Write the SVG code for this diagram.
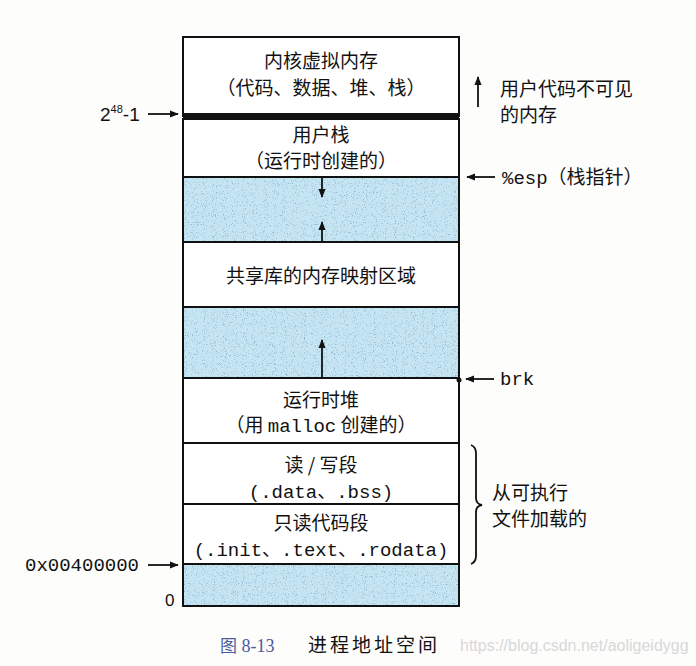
<svg xmlns="http://www.w3.org/2000/svg" width="696" height="666" viewBox="0 0 696 666">
<defs>
<marker id="ah" viewBox="0 0 10 10" refX="9" refY="5" markerWidth="9" markerHeight="9" markerUnits="userSpaceOnUse" orient="auto">
<path d="M0,1 L10,5 L0,9 Z" fill="#111"/>
</marker>
<filter id="speckle" x="0" y="0" width="100%" height="100%" color-interpolation-filters="sRGB">
<feTurbulence type="fractalNoise" baseFrequency="0.9" numOctaves="2" seed="4" result="n"/>
<feColorMatrix in="n" type="matrix" values="0 0 0 0 0.55  0 0 0 0 0.7  0 0 0 0 0.82  4.5 0 0 0 -2.6" result="dots"/>
<feComposite in="dots" in2="SourceGraphic" operator="in"/>
</filter>
</defs>
<style>
.box{fill:#fff;stroke:#111;stroke-width:2}
.blue{fill:#c6e5f3;stroke:#111;stroke-width:2}
.zh{font-family:"Noto Sans CJK SC","Noto Sans",sans-serif;font-size:19px;fill:#111}
.mono{font-family:"Liberation Mono","DejaVu Sans Mono",monospace;font-size:19px;fill:#111}
.c{text-anchor:middle}
.ln{stroke:#111;stroke-width:1.8;fill:none}
</style>
<rect width="696" height="666" fill="#fdfdfc"/>

<g id="kernel">
<rect class="box" x="183" y="37" width="276" height="79"/>
<text class="zh c" x="321" y="68">内核虚拟内存</text>
<text class="zh c" x="321" y="95">（代码、数据、堆、栈）</text>
</g>
<g id="boundary">
<rect x="183" y="113" width="276" height="6" fill="#111"/>
</g>
<g id="user-stack">
<rect class="box" x="183" y="119" width="276" height="58"/>
<text class="zh c" x="321" y="142">用户栈</text>
<text class="zh c" x="321" y="168">（运行时创建的）</text>
</g>
<g id="gap1">
<rect class="blue" x="183" y="177" width="276" height="65"/>
<rect x="184" y="178" width="274" height="63" fill="#c6e5f3" filter="url(#speckle)"/>
</g>
<g id="shared-lib">
<rect class="box" x="183" y="242" width="276" height="65"/>
<text class="zh c" x="321" y="283">共享库的内存映射区域</text>
</g>
<g id="gap2">
<rect class="blue" x="183" y="307" width="276" height="71"/>
<rect x="184" y="308" width="274" height="69" fill="#c6e5f3" filter="url(#speckle)"/>
</g>
<g id="heap">
<rect class="box" x="183" y="378" width="276" height="65"/>
<text class="zh c" x="321" y="407">运行时堆</text>
<text class="zh c" x="321" y="432">（用 <tspan class="mono">malloc</tspan> 创建的）</text>
</g>
<g id="rw-seg">
<rect class="box" x="183" y="443" width="276" height="61"/>
<text class="zh c" x="321" y="472">读 / 写段</text>
<text class="zh c" x="321" y="498"><tspan class="mono">(.data</tspan>、<tspan class="mono">.bss)</tspan></text>
</g>
<g id="ro-seg">
<rect class="box" x="183" y="504" width="276" height="60"/>
<text class="zh c" x="321" y="530">只读代码段</text>
<text class="zh c" x="321" y="556"><tspan class="mono">(.init</tspan>、<tspan class="mono">.text</tspan>、<tspan class="mono">.rodata)</tspan></text>
</g>
<g id="gap3">
<rect class="blue" x="183" y="564" width="276" height="42"/>
<rect x="184" y="565" width="274" height="40" fill="#c6e5f3" filter="url(#speckle)"/>
</g>

<g id="connectors">
<line class="ln" x1="322" y1="178" x2="322" y2="197" marker-end="url(#ah)"/>
<line class="ln" x1="322" y1="241" x2="322" y2="222" marker-end="url(#ah)"/>
<line class="ln" x1="322" y1="377" x2="322" y2="340" marker-end="url(#ah)"/>
<line class="ln" x1="478" y1="107" x2="478" y2="77" marker-end="url(#ah)"/>
<line class="ln" x1="148" y1="114" x2="178" y2="114" marker-end="url(#ah)"/>
<line class="ln" x1="495" y1="177" x2="467" y2="177" marker-end="url(#ah)"/>
<line class="ln" x1="494" y1="379" x2="466" y2="379" marker-end="url(#ah)"/>
<line class="ln" x1="148" y1="565" x2="178" y2="565" marker-end="url(#ah)"/>
<circle cx="459" cy="380" r="2.5" fill="#111"/>
<path class="ln" stroke-width="1.5" d="M471,445 Q476,447 476,453 L476,498 Q476,504 482,505 Q476,506 476,512 L476,556 Q476,562 471,564"/>
</g>

<g id="labels">
<text x="100" y="121" font-family="Liberation Sans, Arial, sans-serif" font-size="19" fill="#111">2<tspan font-size="11" dy="-8">48</tspan><tspan dy="8">-1</tspan></text>
<text class="zh" x="500" y="96">用户代码不可见</text>
<text class="zh" x="500" y="122">的内存</text>
<text class="zh" x="502" y="184"><tspan class="mono">%esp</tspan>（栈指针）</text>
<text class="mono" x="500" y="385">brk</text>
<text class="zh" x="492" y="500">从可执行</text>
<text class="zh" x="492" y="526">文件加载的</text>
<text class="mono" x="25" y="571">0x00400000</text>
<text x="165" y="606" font-family="Liberation Sans, Arial, sans-serif" font-size="17" fill="#111">0</text>
</g>

<g id="caption">
<text x="220" y="652" font-family="Liberation Serif, Times New Roman, serif" font-size="18" fill="#4a5a9c"><tspan font-family="Noto Sans CJK SC, sans-serif" font-size="17">图</tspan> 8-13</text>
<text x="308" y="652" font-family="Noto Sans CJK SC, sans-serif" font-size="19" letter-spacing="3" fill="#111">进程地址空间</text>
<text x="460" y="651" font-family="Liberation Sans, Arial, sans-serif" font-size="16" fill="#d8d8d8">https://blog.csdn.net/aoligeidygg</text>
</g>
</svg>
